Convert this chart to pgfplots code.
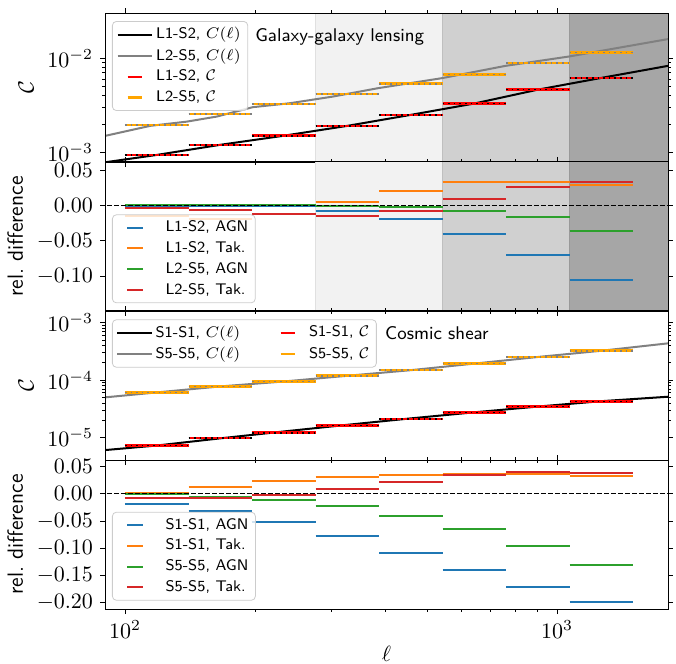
\RequirePackage{fix-cm}
\documentclass[border=0pt]{standalone}
\usepackage{pgfplots}
\usepackage{pgfplotstable}
\pgfplotsset{compat=1.18}
\definecolor{tabblue}{HTML}{1F77B4}
\definecolor{taborange}{HTML}{FF7F0E}
\definecolor{tabgreen}{HTML}{2CA02C}
\definecolor{tabred}{HTML}{D62728}
\definecolor{mplorange}{HTML}{FFA500}
\definecolor{mplgray}{HTML}{808080}
\definecolor{shadeA}{HTML}{F2F2F2}
\definecolor{shadeB}{HTML}{D0D0D0}
\definecolor{shadeC}{HTML}{A6A6A6}

\pgfplotstableread{
edge red orange
100 9.45e-4 1.96e-3
140.29 1.21e-3 2.57e-3
196.80 1.51e-3 3.28e-3
276.08 1.92e-3 4.19e-3
387.30 2.51e-3 5.35e-3
543.33 3.31e-3 6.72e-3
762.22 4.64e-3 8.85e-3
1069.29 6.18e-3 1.15e-2
1500 6.18e-3 1.15e-2
}\tabGG

\pgfplotstableread{
edge blue orange green red
100 -0.0005 -0.0156 0.0003 -0.0038
140.29 -0.0010 -0.0190 0.0002 -0.0062
196.80 -0.0014 0.0000 0.0000 -0.0118
276.08 -0.0076 0.0043 -0.0005 -0.0146
387.30 -0.0185 0.0210 -0.0020 -0.0081
543.33 -0.0402 0.0331 -0.0076 0.0095
762.22 -0.0705 0.0327 -0.0170 0.0265
1069.29 -0.1056 0.0284 -0.0355 0.0331
1500 -0.1056 0.0284 -0.0355 0.0331
}\tabGGd

\pgfplotstableread{
edge red orange
100 7.3e-6 6.1e-5
140.29 9.77e-6 7.76e-5
196.80 1.21e-5 9.46e-5
276.08 1.62e-5 1.19e-4
387.30 2.11e-5 1.49e-4
543.33 2.72e-5 1.94e-4
762.22 3.49e-5 2.53e-4
1069.29 4.22e-5 3.25e-4
1500 4.22e-5 3.25e-4
}\tabCS

\pgfplotstableread{
edge blue orange green red
100 -0.0183 0.0010 -0.0012 -0.0085
140.29 -0.0310 0.0116 -0.0055 -0.0073
196.80 -0.0518 0.0226 -0.0116 -0.0018
276.08 -0.0774 0.0305 -0.0226 0.0085
387.30 -0.1080 0.0348 -0.0402 0.0220
543.33 -0.1400 0.0354 -0.0646 0.0335
762.22 -0.1710 0.0354 -0.0950 0.0396
1069.29 -0.1990 0.0329 -0.1300 0.0384
1500 -0.1990 0.0329 -0.1300 0.0384
}\tabCSd

\begin{document}
\begin{tikzpicture}
\useasboundingbox (-52.5pt,6.5pt) rectangle (285.5pt,-325.5pt);

% ---------- Panel 1 ----------
\begin{axis}[at={(0,0)}, anchor=north west,
  width=281.5pt, height=74.5pt, scale only axis,
  xmode=log, xmin=89.9, xmax=1807, xtick={100,1000}, xticklabels={},
  ymode=log, ymin=7.96e-4, ymax=0.030, ytick={1e-3,1e-2},
  tick align=outside, major tick length=2.5pt, minor tick length=1.4pt,
  tick style={black, line width=0.4pt},
  axis line style={line width=0.5pt},
  tick label style={font=\fontsize{11}{13}\selectfont},
  ylabel={$\mathcal{C}$},
  ylabel style={font=\fontsize{11}{13}\selectfont},
  axis on top,
  legend cell align=left,
  legend style={at={(0.0124,0.946)}, anchor=north west, draw=black!20, rounded corners=2pt,
    fill=white, fill opacity=0.8, text opacity=1,
    font=\sffamily\fontsize{7.7}{9}\selectfont, inner xsep=2pt, inner ysep=2.4pt, row sep=2.4pt,
    nodes={inner ysep=0.5pt, inner xsep=1.5pt}}]
\addplot[fill=shadeA, draw=black!12, forget plot] coordinates {(276.08,1e-4) (543.33,1e-4) (543.33,1) (276.08,1)} -- cycle;
\addplot[fill=shadeB, draw=black!25, forget plot] coordinates {(543.33,1e-4) (1069.29,1e-4) (1069.29,1) (543.33,1)} -- cycle;
\addplot[fill=shadeC, draw=black!40, forget plot] coordinates {(1069.29,1e-4) (3000,1e-4) (3000,1) (1069.29,1)} -- cycle;
\addplot[black, line width=1pt, forget plot] coordinates {(89.9,7.9e-4) (118.4,9.45e-4) (166.2,1.21e-3) (233.2,1.51e-3) (327.2,1.92e-3) (459.0,2.51e-3) (644.0,3.31e-3) (903.6,4.64e-3) (1267.8,6.18e-3) (1807,8.28e-3)};
\addplot[mplgray, line width=1pt, forget plot] coordinates {(89.9,1.503e-3) (114.3,1.919e-3) (139.0,2.128e-3) (162.9,2.404e-3) (197.7,3.027e-3) (241.0,3.334e-3) (302.7,3.917e-3) (385.5,4.808e-3) (542.0,6.138e-3) (760.3,8.28e-3) (1066.6,1.040e-2) (1807,1.589e-2)};
\addplot[red, line width=1.3pt, jump mark left, forget plot] table[x=edge, y=red] {\tabGG};
\addplot[black, line width=0.8pt, dash pattern=on 0.8pt off 2pt, jump mark left, forget plot] table[x=edge, y=red] {\tabGG};
\addplot[mplorange, line width=1.3pt, jump mark left, forget plot] table[x=edge, y=orange] {\tabGG};
\addplot[mplgray, line width=0.8pt, dash pattern=on 0.8pt off 2pt, jump mark left, forget plot] table[x=edge, y=orange] {\tabGG};
\addlegendimage{black, line width=1pt}
\addlegendentry{L1-S2, $C(\ell)$}
\addlegendimage{mplgray, line width=1pt}
\addlegendentry{L2-S5, $C(\ell)$}
\addlegendimage{red, line width=1.3pt, dash pattern=on 0pt off 5pt on 7pt off 10pt}
\addlegendentry{L1-S2, $\mathcal{C}$}
\addlegendimage{mplorange, line width=1.3pt, dash pattern=on 0pt off 5pt on 7pt off 10pt}
\addlegendentry{L2-S5, $\mathcal{C}$}
\node[anchor=base west, inner sep=0pt, font=\sffamily\fontsize{9.2}{11}\selectfont] at (rel axis cs:0.2664,0.807) {Galaxy-galaxy lensing};
\end{axis}

% ---------- Panel 2 ----------
\begin{axis}[at={(0,-74.5pt)}, anchor=north west,
  width=281.5pt, height=74.5pt, scale only axis,
  xmode=log, xmin=89.9, xmax=1807, xtick={100,1000}, xticklabels={},
  ymin=-0.149, ymax=0.0613, ytick={-0.1,-0.05,0,0.05},
  yticklabel style={/pgf/number format/.cd, fixed, fixed zerofill, precision=2},
  scaled y ticks=false,
  tick align=outside, major tick length=2.5pt, minor tick length=1.4pt,
  tick style={black, line width=0.4pt},
  axis line style={line width=0.5pt},
  tick label style={font=\fontsize{11}{13}\selectfont},
  ylabel={rel.\ difference},
  ylabel style={font=\sffamily\fontsize{11}{13}\selectfont},
  axis on top,
  legend cell align=left,
  legend style={at={(0.0124,0.052)}, anchor=south west, draw=black!20, rounded corners=2pt,
    fill=white, fill opacity=0.8, text opacity=1,
    font=\sffamily\fontsize{7.7}{9}\selectfont, inner xsep=2pt, inner ysep=2.4pt, row sep=2.4pt,
    nodes={inner ysep=0.5pt, inner xsep=1.5pt},
    /tikz/every odd column/.append style={column sep=5pt}}]
\addplot[fill=shadeA, draw=black!12, forget plot] coordinates {(276.08,-1) (543.33,-1) (543.33,1) (276.08,1)} -- cycle;
\addplot[fill=shadeB, draw=black!25, forget plot] coordinates {(543.33,-1) (1069.29,-1) (1069.29,1) (543.33,1)} -- cycle;
\addplot[fill=shadeC, draw=black!40, forget plot] coordinates {(1069.29,-1) (3000,-1) (3000,1) (1069.29,1)} -- cycle;
\addplot[tabblue, line width=1pt, jump mark left, forget plot] table[x=edge, y=blue] {\tabGGd};
\addplot[taborange, line width=1pt, jump mark left, forget plot] table[x=edge, y=orange] {\tabGGd};
\addplot[tabgreen, line width=1pt, jump mark left, forget plot] table[x=edge, y=green] {\tabGGd};
\addplot[tabred, line width=1pt, jump mark left, forget plot] table[x=edge, y=red] {\tabGGd};
\addplot[black, line width=0.6pt, dash pattern=on 2.3pt off 1.2pt, forget plot] coordinates {(50,0) (5000,0)};
\addlegendimage{tabblue, line width=1pt, dash pattern=on 0pt off 5pt on 8pt off 10pt}
\addlegendentry{L1-S2, AGN}
\addlegendimage{taborange, line width=1pt, dash pattern=on 0pt off 5pt on 8pt off 10pt}
\addlegendentry{L1-S2, Tak.}
\addlegendimage{tabgreen, line width=1pt, dash pattern=on 0pt off 5pt on 8pt off 10pt}
\addlegendentry{L2-S5, AGN}
\addlegendimage{tabred, line width=1pt, dash pattern=on 0pt off 5pt on 8pt off 10pt}
\addlegendentry{L2-S5, Tak.}
\end{axis}

% ---------- Panel 3 ----------
\begin{axis}[at={(0,-149pt)}, anchor=north west,
  width=281.5pt, height=74.5pt, scale only axis,
  xmode=log, xmin=89.9, xmax=1807, xtick={100,1000}, xticklabels={},
  ymode=log, ymin=4.05e-6, ymax=1.6e-3, ytick={1e-5,1e-4,1e-3},
  tick align=outside, major tick length=2.5pt, minor tick length=1.4pt,
  tick style={black, line width=0.4pt},
  axis line style={line width=0.5pt},
  tick label style={font=\fontsize{11}{13}\selectfont},
  ylabel={$\mathcal{C}$},
  ylabel style={font=\fontsize{11}{13}\selectfont},
  axis on top,
  legend cell align=left,
  legend columns=2,
  legend style={at={(0.0124,0.944)}, anchor=north west, draw=black!20, rounded corners=2pt,
    fill=white, fill opacity=0.8, text opacity=1,
    font=\sffamily\fontsize{7.7}{9}\selectfont, inner xsep=2pt, inner ysep=2.4pt, row sep=2.4pt,
    nodes={inner ysep=0.5pt, inner xsep=1.5pt},
    /tikz/every even column/.append style={column sep=13pt}}]
\addplot[black, line width=1pt, forget plot] coordinates {(89.9,6.03e-6) (118.4,7.24e-6) (166.2,9.66e-6) (233.2,1.274e-5) (327.2,1.663e-5) (459.0,2.153e-5) (644.0,2.748e-5) (903.6,3.459e-5) (1267.8,4.295e-5) (1807,5.13e-5)};
\addplot[mplgray, line width=1pt, forget plot] coordinates {(89.9,5.0e-5) (118.4,6.1e-5) (166.2,7.76e-5) (233.2,9.46e-5) (327.2,1.19e-4) (459.0,1.49e-4) (644.0,1.94e-4) (903.6,2.53e-4) (1267.8,3.25e-4) (1807,4.37e-4)};
\addplot[red, line width=1.3pt, jump mark left, forget plot] table[x=edge, y=red] {\tabCS};
\addplot[black, line width=0.8pt, dash pattern=on 0.8pt off 2pt, jump mark left, forget plot] table[x=edge, y=red] {\tabCS};
\addplot[mplorange, line width=1.3pt, jump mark left, forget plot] table[x=edge, y=orange] {\tabCS};
\addplot[mplgray, line width=0.8pt, dash pattern=on 0.8pt off 2pt, jump mark left, forget plot] table[x=edge, y=orange] {\tabCS};
\addlegendimage{black, line width=1pt}
\addlegendentry{S1-S1, $C(\ell)$}
\addlegendimage{red, line width=1.3pt, dash pattern=on 0pt off 5pt on 7pt off 10pt}
\addlegendentry{S1-S1, $\mathcal{C}$}
\addlegendimage{mplgray, line width=1pt}
\addlegendentry{S5-S5, $C(\ell)$}
\addlegendimage{mplorange, line width=1.3pt, dash pattern=on 0pt off 5pt on 7pt off 10pt}
\addlegendentry{S5-S5, $\mathcal{C}$}
\node[anchor=base west, inner sep=0pt, font=\sffamily\fontsize{9.2}{11}\selectfont] at (rel axis cs:0.497,0.808) {Cosmic shear};
\end{axis}

% ---------- Panel 4 ----------
\begin{axis}[at={(0,-223.5pt)}, anchor=north west,
  width=281.5pt, height=74.5pt, scale only axis,
  xmode=log, xmin=89.9, xmax=1807, xtick={100,1000},
  ymin=-0.2115, ymax=0.0619, ytick={-0.2,-0.15,-0.1,-0.05,0,0.05},
  yticklabel style={/pgf/number format/.cd, fixed, fixed zerofill, precision=2},
  scaled y ticks=false,
  tick align=outside, major tick length=2.5pt, minor tick length=1.4pt,
  tick style={black, line width=0.4pt},
  axis line style={line width=0.5pt},
  tick label style={font=\fontsize{11}{13}\selectfont},
  xlabel={$\ell$},
  xlabel style={font=\fontsize{11}{13}\selectfont, yshift=3pt},
  ylabel={rel.\ difference},
  ylabel style={font=\sffamily\fontsize{11}{13}\selectfont},
  axis on top,
  legend cell align=left,
  legend style={at={(0.0124,0.056)}, anchor=south west, draw=black!20, rounded corners=2pt,
    fill=white, fill opacity=0.8, text opacity=1,
    font=\sffamily\fontsize{7.7}{9}\selectfont, inner xsep=2pt, inner ysep=2.4pt, row sep=2.4pt,
    nodes={inner ysep=0.5pt, inner xsep=1.5pt},
    /tikz/every odd column/.append style={column sep=5pt}}]
\addplot[tabblue, line width=1pt, jump mark left, forget plot] table[x=edge, y=blue] {\tabCSd};
\addplot[taborange, line width=1pt, jump mark left, forget plot] table[x=edge, y=orange] {\tabCSd};
\addplot[tabgreen, line width=1pt, jump mark left, forget plot] table[x=edge, y=green] {\tabCSd};
\addplot[tabred, line width=1pt, jump mark left, forget plot] table[x=edge, y=red] {\tabCSd};
\addplot[black, line width=0.6pt, dash pattern=on 2.3pt off 1.2pt, forget plot] coordinates {(50,0) (5000,0)};
\addlegendimage{tabblue, line width=1pt, dash pattern=on 0pt off 5pt on 8pt off 10pt}
\addlegendentry{S1-S1, AGN}
\addlegendimage{taborange, line width=1pt, dash pattern=on 0pt off 5pt on 8pt off 10pt}
\addlegendentry{S1-S1, Tak.}
\addlegendimage{tabgreen, line width=1pt, dash pattern=on 0pt off 5pt on 8pt off 10pt}
\addlegendentry{S5-S5, AGN}
\addlegendimage{tabred, line width=1pt, dash pattern=on 0pt off 5pt on 8pt off 10pt}
\addlegendentry{S5-S5, Tak.}
\end{axis}
\end{tikzpicture}
\end{document}
